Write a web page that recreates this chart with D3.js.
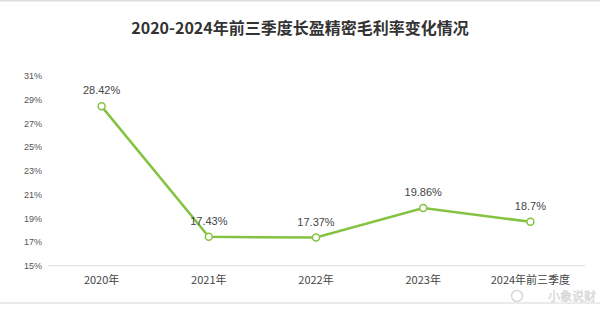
<!DOCTYPE html>
<html><head><meta charset="utf-8">
<script src="https://cdn.jsdelivr.net/npm/d3@7"></script>
<style>body{margin:0;background:#fff}svg{display:block}</style>
</head><body>
<script>
const title = "2020-2024年前三季度长盈精密毛利率变化情况";
const categories = ["2020年","2021年","2022年","2023年","2024年前三季度"];
const values = [28.42, 17.43, 17.37, 19.86, 18.7];
const valueLabels = ["28.42%","17.43%","17.37%","19.86%","18.7%"];
const yTicks = [15,17,19,21,23,25,27,29,31];

const W=600,H=311;
const svg=d3.select("body").append("svg").attr("width",W).attr("height",H);
svg.append("rect").attr("width",W).attr("height",H).attr("fill","#fff");
svg.append("line").attr("x1",0).attr("x2",W).attr("y1",0.5).attr("y2",0.5).attr("stroke","#ddd").attr("stroke-width",2);
svg.append("line").attr("x1",0).attr("x2",W).attr("y1",303).attr("y2",303).attr("stroke","#e4e4e4").attr("stroke-width",1.5);

svg.append("text").attr("x",300).attr("y",34).attr("text-anchor","middle")
  .attr("font-family","'Noto Sans CJK SC','Liberation Sans',sans-serif").attr("font-size",16).attr("font-weight","bold")
  .attr("fill","#333").text(title);

const x=d3.scaleBand().domain(categories).range([48,584]);
const y=d3.scaleLinear().domain([15,31]).range([265.7,75.7]);

// y axis
const ya=svg.append("g").attr("transform","translate(42,0)")
  .call(d3.axisLeft(y).tickValues(yTicks).tickSize(0).tickPadding(0).tickFormat(d=>d+"%"));
ya.select(".domain").remove();
ya.selectAll("text").attr("font-family","'Liberation Sans',sans-serif").attr("font-size",9).attr("fill","#555");

// baseline
svg.append("line").attr("x1",48).attr("x2",585).attr("y1",y(15)).attr("y2",y(15)).attr("stroke","#ddd").attr("stroke-width",1);

// x axis
const xa=svg.append("g").attr("transform",`translate(0,${y(15)})`)
  .call(d3.axisBottom(x).tickSize(0).tickPadding(11));
xa.select(".domain").remove();
xa.selectAll("text").attr("font-family","'Noto Sans CJK SC','Liberation Sans',sans-serif").attr("font-size",11).attr("fill","#444");

const cx=(d,i)=>x(categories[i])+x.bandwidth()/2;
const line=d3.line().x((d,i)=>cx(d,i)).y(d=>y(d));
svg.append("path").datum(values).attr("d",line).attr("fill","none").attr("stroke","#84c341").attr("stroke-width",2.5);
svg.selectAll("circle.pt").data(values).enter().append("circle").attr("class","pt")
  .attr("cx",cx).attr("cy",d=>y(d)).attr("r",3.5).attr("fill","#fff").attr("stroke","#84c341").attr("stroke-width",1.5);
svg.selectAll("text.lbl").data(values).enter().append("text").attr("class","lbl")
  .attr("x",cx).attr("y",d=>y(d)-12).attr("text-anchor","middle")
  .attr("font-family","'Liberation Sans',sans-serif").attr("font-size",11).attr("fill","#444")
  .text((d,i)=>valueLabels[i]);

// watermark
svg.append("text").attr("x",596).attr("y",301).attr("text-anchor","end")
  .attr("font-family","'Noto Sans CJK SC',sans-serif").attr("font-size",12).attr("fill","#e6e6e6").attr("stroke","#d0d0d0").attr("stroke-width",0.4)
  .text("小象说财");
svg.append("circle").attr("cx",517).attr("cy",296).attr("r",5.5).attr("fill","none").attr("stroke","#d8d8d8").attr("stroke-width",1.5);
</script>
</body></html>
